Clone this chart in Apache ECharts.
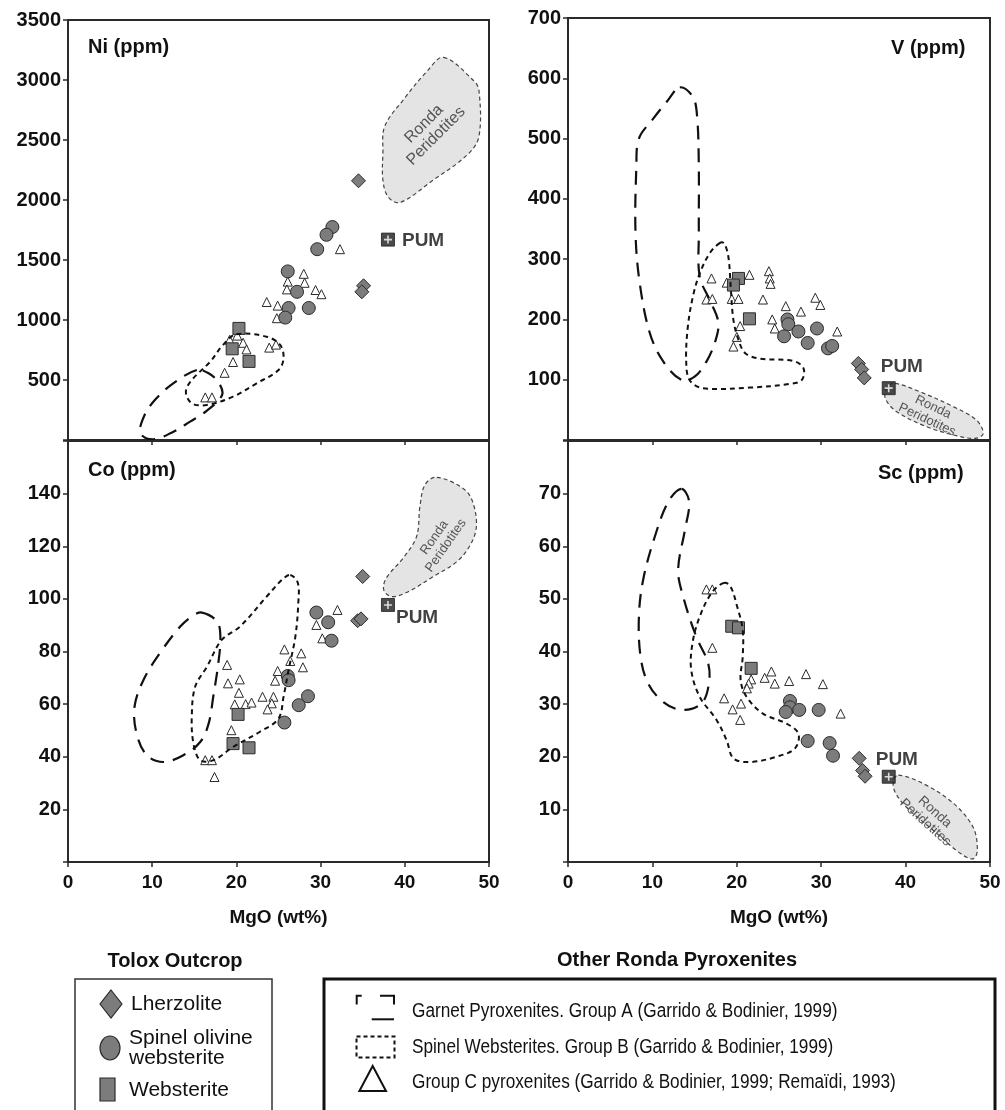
<!DOCTYPE html>
<html>
<head>
<meta charset="utf-8">
<title>Ni, V, Co, Sc vs MgO</title>
<script src="https://cdn.jsdelivr.net/npm/echarts@6/dist/echarts.min.js"></script>
<style>
  html, body { margin: 0; padding: 0; background: #fff; }
  #chart { width: 1005px; height: 1110px; }
</style>
</head>
<body>
<div id="chart"></div>
<script>
// ---------- data: MgO (wt%) vs trace element (ppm) ----------
// Ni
const niLherzolite = [[34.5, 2160], [35.1, 1285], [34.9, 1235]];
const niSpinelOlWeb = [[31.4, 1775], [30.7, 1710], [29.6, 1590], [26.1, 1405], [27.2, 1235], [26.2, 1100], [28.6, 1100], [25.8, 1020]];
const niWebsterite = [[20.3, 930], [19.5, 760], [21.5, 655]];
const niGroupC = [[32.3, 1590], [28.0, 1385], [28.1, 1310], [26.1, 1320], [26.0, 1255], [29.4, 1250], [30.1, 1215], [23.6, 1150], [24.9, 1120], [24.8, 1015], [19.2, 835], [20.1, 870], [20.8, 810], [21.2, 755], [19.6, 650], [18.6, 560], [23.9, 770], [24.7, 795], [16.3, 355], [17.1, 355]];
// V
const vLherzolite = [[34.4, 127], [34.8, 117], [35.1, 103]];
const vSpinelOlWeb = [[26.0, 200], [26.1, 192], [25.6, 172], [27.3, 180], [28.4, 161], [29.5, 185], [30.8, 152], [31.3, 156]];
const vWebsterite = [[20.2, 268], [19.6, 257], [21.5, 201]];
const vGroupC = [[17.0, 268], [16.4, 233], [17.1, 234], [18.8, 261], [19.4, 234], [20.2, 234], [21.5, 274], [23.8, 280], [23.9, 268], [24.0, 259], [23.1, 233], [25.8, 222], [27.6, 213], [29.3, 236], [29.9, 224], [24.2, 200], [24.5, 185], [20.4, 189], [20.0, 171], [19.6, 155], [31.9, 180]];
// Co
const coLherzolite = [[35.0, 108.5], [34.4, 91.7], [34.8, 92.4]];
const coSpinelOlWeb = [[29.5, 94.8], [30.9, 91.1], [31.3, 84.1], [26.1, 70.7], [26.2, 69.1], [28.5, 63.0], [27.4, 59.6], [25.7, 53.0]];
const coWebsterite = [[20.2, 56.1], [19.6, 45.0], [21.5, 43.4]];
const coGroupC = [[32.0, 95.8], [29.5, 90.1], [30.2, 85.0], [25.7, 80.8], [27.7, 79.3], [26.4, 76.4], [27.9, 74.0], [24.9, 72.6], [24.6, 68.9], [18.9, 74.9], [19.0, 67.9], [20.4, 69.4], [20.3, 64.3], [19.8, 59.9], [21.1, 60.0], [21.8, 60.6], [23.1, 62.8], [24.4, 62.8], [24.2, 60.3], [23.7, 58.0], [19.4, 50.1], [16.3, 38.7], [17.1, 38.7], [17.4, 32.3]];
// Sc
const scLherzolite = [[34.5, 19.7], [34.9, 17.4], [35.2, 16.3]];
const scSpinelOlWeb = [[26.3, 30.6], [26.3, 29.4], [25.8, 28.5], [27.4, 28.9], [29.7, 28.9], [28.4, 23.0], [31.0, 22.6], [31.4, 20.2]];
const scWebsterite = [[19.4, 44.8], [20.2, 44.5], [21.7, 36.8]];
const scGroupC = [[16.4, 51.8], [17.1, 51.8], [17.1, 40.7], [24.1, 36.2], [23.3, 35.0], [21.7, 34.7], [24.5, 33.9], [26.2, 34.4], [28.2, 35.7], [30.2, 33.8], [21.4, 33.9], [21.2, 33.0], [18.5, 31.1], [19.5, 29.0], [20.5, 30.1], [20.4, 27.0], [32.3, 28.2]];

// Primitive upper mantle
const pumMgO = 38.0;
const pumNi = 1670;
const pumV = 86;
const pumCo = 97.7;
const pumSc = 16.2;

// Field outlines (MgO, ppm)
const niGroupA = [[15.3, 583], [12.5, 472], [10.5, 347], [9.1, 208], [8.6, 56], [10.1, 6], [12.3, 61], [14.5, 153], [16.5, 244], [18.3, 375], [17.9, 478], [16.7, 556]];
const niGroupB = [[20.0, 881], [23.6, 861], [25.2, 792], [25.6, 681], [25.0, 583], [22.4, 472], [19.6, 361], [16.5, 292], [14.7, 306], [14.0, 403], [14.7, 500], [16.9, 653], [18.4, 792]];
const niRonda = [[44.6, 3189], [48.1, 3000], [48.8, 2917], [48.8, 2528], [47.4, 2375], [43.4, 2167], [39.4, 1978], [38.0, 2028], [37.4, 2167], [37.4, 2389], [37.6, 2611], [39.8, 2833], [42.6, 3069]];

const vGroupA = [[13.25, 585], [14.8, 569], [15.3, 536], [15.5, 453], [15.5, 343], [15.6, 271], [16.8, 232], [17.8, 196], [17.5, 166], [16.4, 130], [15.0, 105], [13.45, 99.5], [11.3, 130], [9.7, 177], [8.5, 260], [8.0, 343], [8.1, 453], [8.4, 500], [10.1, 533], [11.7, 561]];
const vGroupB = [[18.0, 327], [16.8, 310], [15.6, 276], [14.8, 238], [14.2, 188], [14.0, 133], [14.4, 99.5], [16.0, 86], [21.55, 87], [26.3, 93], [27.7, 99.5], [27.9, 119], [26.7, 131], [22.7, 135], [21.0, 144], [20.2, 166], [19.6, 199], [19.3, 249], [19.0, 304], [18.5, 326]];
const vRonda = [[38.75, 94], [41.7, 80], [45.7, 55], [48.4, 33], [49.2, 11], [48.4, 3], [46.5, 5.5], [42.5, 22], [38.95, 47], [37.6, 69], [37.8, 88]];

const coGroupA = [[15.9, 94.8], [17.7, 91.4], [18.1, 85.6], [17.85, 75.5], [17.25, 62.8], [16.7, 52.6], [15.7, 45.6], [13.7, 40.6], [11.3, 38.0], [9.35, 40.6], [8.15, 48.8], [7.9, 59.0], [8.95, 69.1], [10.9, 79.3], [13.3, 89.4], [14.7, 93.3]];
const coGroupB = [[26.4, 109.1], [27.3, 106], [27.35, 98.4], [27.0, 85.6], [26.2, 73.0], [25.6, 62.8], [25.0, 54.5], [22.8, 49.5], [19.6, 43.7], [17.3, 38.7], [15.7, 38.7], [14.9, 45.0], [14.7, 55.2], [15.1, 66.6], [16.5, 74.2], [18.25, 84.4], [20.4, 89.4], [23.6, 100.9], [25.4, 107.2]];
const coRonda = [[43.8, 146.2], [47.0, 141.8], [48.1, 136.5], [48.5, 127.5], [47.8, 120.6], [46.2, 114.2], [43.4, 108.5], [40.2, 102.4], [38.4, 100.9], [37.5, 103.4], [37.8, 107.9], [39.8, 115.5], [41.4, 123.7], [41.8, 135.2], [42.4, 143.4]];

const scGroupA = [[13.45, 70.9], [14.35, 68.5], [13.85, 63.1], [13.05, 55.5], [13.65, 50.4], [15.2, 42.8], [16.6, 37.8], [16.7, 33.9], [15.8, 30.1], [13.45, 28.9], [11.3, 30.4], [9.5, 33.9], [8.6, 39.0], [8.4, 46.6], [8.9, 53.6], [10.3, 61.9], [11.9, 68.5]];
const scGroupB = [[18.4, 53.0], [19.2, 52.5], [20.05, 48.5], [20.7, 44.1], [20.7, 39.0], [20.45, 34.6], [21.15, 31.4], [23.1, 28.2], [25.9, 26.3], [27.3, 24.4], [26.9, 21.6], [24.7, 20.0], [21.55, 19.0], [19.6, 19.7], [18.8, 23.1], [17.6, 27.0], [15.6, 31.4], [14.6, 36.5], [14.75, 41.6], [15.6, 46.6], [17.0, 51.1]];
const scRonda = [[39.15, 16.5], [42.1, 14.9], [45.7, 11.1], [48.0, 6.6], [48.5, 2.2], [48.0, 0.6], [46.5, 1.6], [43.3, 6.0], [40.1, 10.4], [38.75, 13.3], [38.55, 15.5]];

// Axis ranges
const mgoMin = 0, mgoMax = 50, mgoStep = 10;
const niMax = 3500, niStep = 500;
const vMax = 700, vStep = 100;
const coMax = 160, coStep = 20;
const scMax = 80, scStep = 10;

// ---------- styling ----------
const FONT = "'Liberation Sans', Arial, Helvetica, sans-serif";
const INK = '#111';
const AXIS = '#2a2a2a';
const GREY = '#7c7c7c';

const panels = [
  { grid: { left: 68, top: 20, width: 421, height: 420 }, yMax: niMax, yStep: niStep, bottomRow: false, hideTop: false,
    title: 'Ni (ppm)', titlePos: { left: 88, top: 37 },
    lherz: niLherzolite, spinel: niSpinelOlWeb, web: niWebsterite, groupC: niGroupC, pum: [[pumMgO, pumNi]],
    pumLabel: [21, 8], A: niGroupA, B: niGroupB, R: niRonda,
    rondaText: { at: [43.0, 2583], rot: 45, size: 16 } },
  { grid: { left: 568, top: 18, width: 422, height: 422 }, yMax: vMax, yStep: vStep, bottomRow: false, hideTop: false,
    title: 'V (ppm)', titlePos: { left: 891, top: 38 },
    lherz: vLherzolite, spinel: vSpinelOlWeb, web: vWebsterite, groupC: vGroupC, pum: [[pumMgO, pumV]],
    pumLabel: [-1, -14], A: vGroupA, B: vGroupB, R: vRonda,
    rondaText: { at: [42.9, 44], rot: -25, size: 13 } },
  { grid: { left: 68, top: 441, width: 421, height: 421 }, yMax: coMax, yStep: coStep, bottomRow: true, hideTop: true,
    title: 'Co (ppm)', titlePos: { left: 88, top: 460 },
    lherz: coLherzolite, spinel: coSpinelOlWeb, web: coWebsterite, groupC: coGroupC, pum: [[pumMgO, pumCo]],
    pumLabel: [15, 19.5], A: coGroupA, B: coGroupB, R: coRonda,
    rondaText: { at: [44.2, 121.8], rot: 55, size: 13 } },
  { grid: { left: 568, top: 441, width: 422, height: 421 }, yMax: scMax, yStep: scStep, bottomRow: true, hideTop: true,
    title: 'Sc (ppm)', titlePos: { left: 878, top: 463 },
    lherz: scLherzolite, spinel: scSpinelOlWeb, web: scWebsterite, groupC: scGroupC, pum: [[pumMgO, pumSc]],
    pumLabel: [-6, -10], A: scGroupA, B: scGroupB, R: scRonda,
    rondaText: { at: [42.9, 8.5], rot: -42, size: 13.5 } }
];

const regionStyles = {
  A: { stroke: INK, lineWidth: 2.2, lineDash: [14, 9], fill: null },
  B: { stroke: INK, lineWidth: 2, lineDash: [5, 4], fill: null },
  R: { stroke: '#444', lineWidth: 1.2, lineDash: [4, 3], fill: '#e4e4e4' }
};

// A closed field outline drawn through the panel's own axes
function regionSeries(i, pts, kind, text) {
  return {
    type: 'custom', xAxisIndex: i, yAxisIndex: i, silent: true, clip: true,
    z: kind === 'R' ? 1 : 8,
    data: [pts[0]],
    encode: { x: 0, y: 1 },
    renderItem: function (params, api) {
      const points = pts.map(function (p) { return api.coord(p); });
      const children = [{
        type: 'polygon',
        shape: { points: points, smooth: 0.35 },
        style: Object.assign({}, regionStyles[kind])
      }];
      if (text) {
        const c = api.coord(text.at);
        children.push({
          type: 'text', x: c[0], y: c[1], rotation: text.rot * Math.PI / 180,
          style: {
            text: 'Ronda\nPeridotites', fill: '#555', fontSize: text.size, fontFamily: FONT,
            align: 'center', verticalAlign: 'middle', lineHeight: Math.round(text.size * 1.05)
          }
        });
      }
      return { type: 'group', children: children };
    }
  };
}

function scatter(i, data, symbol, size, color, z) {
  return {
    type: 'scatter', xAxisIndex: i, yAxisIndex: i, data: data, symbol: symbol, symbolSize: size,
    z: z, silent: true,
    itemStyle: { color: color, borderColor: '#2b2b2b', borderWidth: 1, opacity: 1 }
  };
}

const grids = [], xAxes = [], yAxes = [], series = [], titles = [];

panels.forEach(function (p, i) {
  grids.push(Object.assign({ show: true, borderColor: AXIS, borderWidth: 2, backgroundColor: 'transparent' }, p.grid));
  xAxes.push({
    type: 'value', gridIndex: i, min: mgoMin, max: mgoMax, interval: mgoStep,
    axisLine: { show: true, onZero: false, lineStyle: { color: AXIS, width: 2 } },
    axisTick: { show: true, length: 5, lineStyle: { color: AXIS, width: 1.5 } },
    splitLine: { show: false },
    axisLabel: { show: p.bottomRow, color: INK, fontFamily: FONT, fontWeight: 'bold', fontSize: 19, margin: 11 },
    name: p.bottomRow ? 'MgO (wt%)' : '',
    nameLocation: 'middle', nameGap: 46,
    nameTextStyle: { color: INK, fontFamily: FONT, fontWeight: 'bold', fontSize: 19 }
  });
  yAxes.push({
    type: 'value', gridIndex: i, min: 0, max: p.yMax, interval: p.yStep,
    axisLine: { show: true, onZero: false, lineStyle: { color: AXIS, width: 2 } },
    axisTick: { show: true, length: 5, lineStyle: { color: AXIS, width: 1.5 } },
    splitLine: { show: false },
    axisLabel: {
      color: INK, fontFamily: FONT, fontWeight: 'bold', fontSize: 20, margin: 7,
      formatter: (function (max, hideTop) {
        return function (v) { return (v === 0 || (hideTop && v === max)) ? '' : String(v); };
      })(p.yMax, p.hideTop)
    }
  });
  titles.push({
    text: p.title, left: p.titlePos.left, top: p.titlePos.top, padding: 0,
    textStyle: { color: INK, fontFamily: FONT, fontWeight: 'bold', fontSize: 20 }
  });

  series.push(regionSeries(i, p.R, 'R', p.rondaText));
  series.push(scatter(i, p.groupC, 'triangle', 9, '#ffffff', 3));
  series.push(scatter(i, p.spinel, 'circle', 13, GREY, 4));
  series.push(scatter(i, p.web, 'rect', 12, GREY, 5));
  series.push(scatter(i, p.lherz, 'diamond', 14, GREY, 6));
  series.push({
    type: 'scatter', xAxisIndex: i, yAxisIndex: i, data: p.pum, symbol: 'rect', symbolSize: 13, z: 9, silent: true,
    itemStyle: { color: '#1e1e1e', borderColor: '#1e1e1e', borderWidth: 1 },
    label: {
      show: true, formatter: 'PUM', position: p.pumLabel, align: 'left', verticalAlign: 'middle',
      color: INK, fontFamily: FONT, fontWeight: 'bold', fontSize: 19
    }
  });
  series.push({
    type: 'scatter', xAxisIndex: i, yAxisIndex: i, data: p.pum, z: 10, silent: true,
    symbol: 'path://M4,0H6V4H10V6H6V10H4V6H0V4H4Z', symbolSize: 8,
    itemStyle: { color: '#ffffff' }
  });
  series.push(regionSeries(i, p.A, 'A'));
  series.push(regionSeries(i, p.B, 'B'));
});

// ---------- legend blocks below the panels ----------
const txt = function (x, y, s, style, el) {
  return Object.assign({
    type: 'text', x: x, y: y,
    style: Object.assign({ text: s, fill: INK, fontFamily: FONT, fontSize: 21, verticalAlign: 'middle', align: 'left' }, style || {})
  }, el || {});
};
// condensed captions: regular face squeezed horizontally
const narrow = function (x, y, s) { return txt(x, y, s, { fontSize: 20 }, { scaleX: 0.86 }); };

const legendGraphics = [
  // Tolox Outcrop
  txt(175, 961, 'Tolox Outcrop', { fontWeight: 'bold', align: 'center', fontSize: 20 }),
  { type: 'rect', shape: { x: 75, y: 979, width: 197, height: 150 }, style: { fill: '#fff', stroke: '#333', lineWidth: 1.5 } },
  { type: 'polygon', shape: { points: [[111, 990], [122, 1004], [111, 1018], [100, 1004]] }, style: { fill: GREY, stroke: '#2b2b2b', lineWidth: 1.2 } },
  txt(131, 1004, 'Lherzolite'),
  { type: 'ellipse', shape: { cx: 110, cy: 1048, rx: 10, ry: 12 }, style: { fill: GREY, stroke: '#2b2b2b', lineWidth: 1.2 } },
  txt(129, 1038, 'Spinel olivine'),
  txt(129, 1058, 'websterite'),
  { type: 'rect', shape: { x: 100, y: 1078, width: 15, height: 23 }, style: { fill: GREY, stroke: '#2b2b2b', lineWidth: 1.2 } },
  txt(129, 1090, 'Websterite'),

  // Other Ronda Pyroxenites
  txt(677, 960, 'Other Ronda Pyroxenites', { fontWeight: 'bold', align: 'center', fontSize: 20 }),
  { type: 'rect', shape: { x: 324, y: 979, width: 671, height: 150 }, style: { fill: '#fff', stroke: INK, lineWidth: 3 } },
  { type: 'polyline', shape: { points: [[361.7, 995.7], [356.7, 995.7], [356.7, 1004.5]] }, style: { fill: null, stroke: INK, lineWidth: 2 } },
  { type: 'polyline', shape: { points: [[380, 995.7], [394, 995.7], [394, 1004.5]] }, style: { fill: null, stroke: INK, lineWidth: 2 } },
  { type: 'line', shape: { x1: 371.7, y1: 1019.3, x2: 394, y2: 1019.3 }, style: { stroke: INK, lineWidth: 2 } },
  narrow(412, 1011, 'Garnet Pyroxenites. Group A (Garrido & Bodinier, 1999)'),
  { type: 'rect', shape: { x: 356.5, y: 1036.5, width: 38, height: 21 }, style: { fill: null, stroke: INK, lineWidth: 2, lineDash: [4, 3] } },
  narrow(412, 1047, 'Spinel Websterites. Group B (Garrido & Bodinier, 1999)'),
  { type: 'polygon', shape: { points: [[372.7, 1066], [386, 1091], [359.4, 1091]] }, style: { fill: null, stroke: INK, lineWidth: 2 } },
  narrow(412, 1082, 'Group C pyroxenites (Garrido & Bodinier, 1999; Remaïdi, 1993)')
];

const chart = echarts.init(document.getElementById('chart'), null, { renderer: 'canvas' });
chart.setOption({
  animation: false,
  backgroundColor: '#ffffff',
  textStyle: { fontFamily: FONT },
  title: titles,
  grid: grids,
  xAxis: xAxes,
  yAxis: yAxes,
  series: series,
  graphic: legendGraphics
});
</script>
</body>
</html>
